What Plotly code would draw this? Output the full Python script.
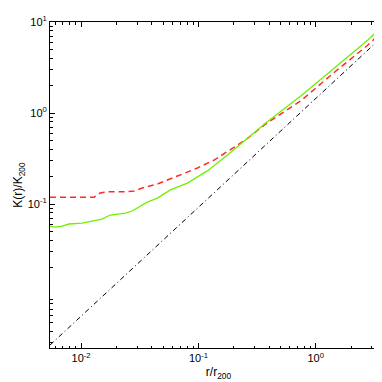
import plotly.graph_objects as go

# values (r/r200 , K/K200)
r_green = [0.00543, 0.0060, 0.00689, 0.00789, 0.0102, 0.0124, 0.0151, 0.0177, 0.0203,
           0.0238, 0.0273, 0.0313, 0.0366, 0.0447, 0.0577, 0.0805, 0.119, 0.177,
           0.252, 0.374, 0.745, 1.45, 2.78, 4.05]
k_green = [0.0573, 0.0558, 0.0573, 0.0603, 0.0618, 0.0650, 0.0684, 0.0757, 0.0776,
           0.0796, 0.0838, 0.0927, 0.105, 0.116, 0.143, 0.170, 0.231, 0.345,
           0.505, 0.776, 1.54, 3.13, 6.34, 10.0]

r_red = [0.00543, 0.00759, 0.0129, 0.0145, 0.0167, 0.0224, 0.0284, 0.0332, 0.0447,
         0.0662, 0.098, 0.137, 0.177, 0.215, 0.252, 0.374, 0.745, 1.45, 2.78, 4.05]
k_red = [0.119, 0.119, 0.119, 0.132, 0.136, 0.136, 0.139, 0.150, 0.166,
         0.203, 0.249, 0.305, 0.382, 0.445, 0.505, 0.757, 1.36, 2.82, 5.58, 8.81]

# baseline (straight line in log-log)
r_base = [0.00543, 4.05]
k_base = [0.00282, 7.7]

x_ticks = [0.01, 0.1, 1]
x_ticktext = ["10<sup>-2</sup>", "10<sup>-1</sup>", "10<sup>0</sup>"]
y_ticks = [0.1, 1, 10]
y_ticktext = ["10<sup>-1</sup>", "10<sup>0</sup>", "10<sup>1</sup>"]

minor_vals = [m * 10 ** e for e in range(-4, 2) for m in range(2, 10)]

fig = go.Figure()

fig.add_trace(go.Scatter(x=r_base, y=k_base, mode="lines",
                         line=dict(color="black", width=1, dash="5px,3px,1px,3px")))
fig.add_trace(go.Scatter(x=r_red, y=k_red, mode="lines",
                         line=dict(color="#ff2a2a", width=1.5, dash="6px,4px")))
fig.add_trace(go.Scatter(x=r_green, y=k_green, mode="lines",
                         line=dict(color="#70f000", width=1.3)))

axis_common = dict(
    type="log",
    showgrid=False,
    zeroline=False,
    showline=True,
    linecolor="black",
    linewidth=1,
    mirror="ticks",
    ticks="inside",
    ticklen=5,
    tickcolor="black",
    tickfont=dict(size=11, color="black"),
    minor=dict(ticks="inside", ticklen=2.5, tickcolor="black", tickvals=minor_vals),
)

fig.update_layout(
    width=382,
    height=382,
    margin=dict(l=42, r=3, t=14, b=42),
    showlegend=False,
    plot_bgcolor="white",
    paper_bgcolor="white",
    font=dict(family="Liberation Sans, Arial, sans-serif", color="black"),
    xaxis=dict(axis_common, range=[-2.265, 0.607], tickmode="array",
               tickvals=x_ticks, ticktext=x_ticktext,
               title=dict(text="r/r<sub>200</sub>", font=dict(size=12), standoff=4)),
    yaxis=dict(axis_common, range=[-2.582, 1.0], tickmode="array",
               tickvals=y_ticks, ticktext=y_ticktext,
               title=dict(text="K(r)/K<sub>200</sub>", font=dict(size=12), standoff=2)),
)

fig.write_html("out.html")
